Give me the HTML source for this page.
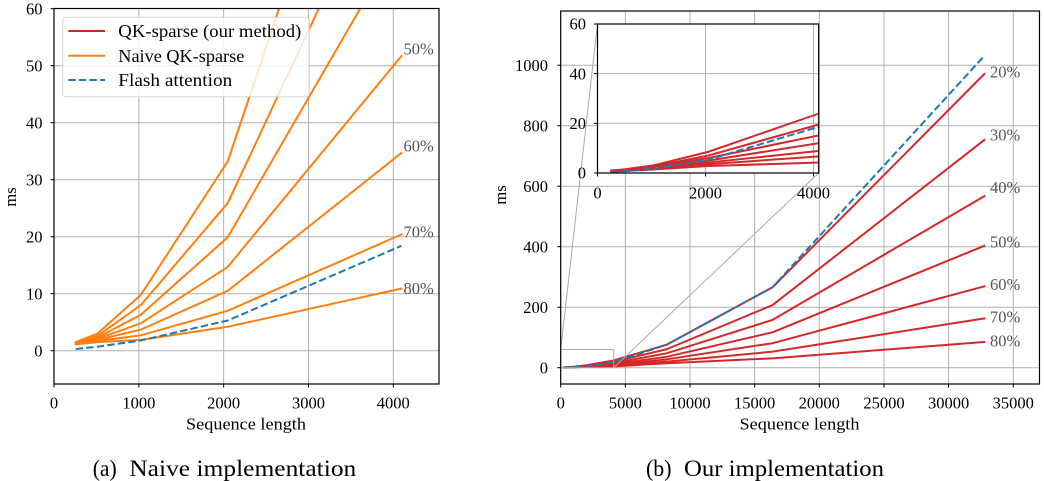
<!DOCTYPE html>
<html>
<head>
<meta charset="utf-8">
<style>
html,body{margin:0;padding:0;background:#fff;}
svg{display:block;}
text{font-family:"Liberation Serif","DejaVu Serif",serif;fill:#000;}
.tk{font-size:16.5px;}
.pc{font-size:16.5px;fill:#555;}
.grid line{stroke:#b0b0b0;stroke-width:1;}
.r{fill:none;stroke:#d62728;stroke-width:2;stroke-linejoin:round;stroke-linecap:square;}
.o{fill:none;stroke:#ff7f0e;stroke-width:2;stroke-linejoin:round;stroke-linecap:square;}
.b{fill:none;stroke:#1f77b4;stroke-width:2;stroke-dasharray:7.4 3.2;}
.tick line{stroke:#000;stroke-width:1;}
</style>
</head>
<body>
<svg width="1044" height="481" viewBox="0 0 1044 481" xmlns="http://www.w3.org/2000/svg">
<defs>
  <clipPath id="cl"><rect x="54" y="8.5" width="385" height="375.5"/></clipPath>
  <clipPath id="cr"><rect x="560.7" y="11" width="478.8" height="373"/></clipPath>
  <clipPath id="ci"><rect x="597.5" y="24" width="221.2" height="149"/></clipPath>
</defs>
<rect width="1044" height="481" fill="#fff"/>

<!-- ================= LEFT PLOT ================= -->
<g class="grid">
  <line x1="54" y1="8.5" x2="54" y2="384"/>
  <line x1="138.83" y1="8.5" x2="138.83" y2="384"/>
  <line x1="223.65" y1="8.5" x2="223.65" y2="384"/>
  <line x1="308.48" y1="8.5" x2="308.48" y2="384"/>
  <line x1="393.3" y1="8.5" x2="393.3" y2="384"/>
  <line x1="54" y1="350.7" x2="439" y2="350.7"/>
  <line x1="54" y1="293.7" x2="439" y2="293.7"/>
  <line x1="54" y1="236.7" x2="439" y2="236.7"/>
  <line x1="54" y1="179.7" x2="439" y2="179.7"/>
  <line x1="54" y1="122.7" x2="439" y2="122.7"/>
  <line x1="54" y1="65.7" x2="439" y2="65.7"/>
</g>
<g clip-path="url(#cl)">
  <polyline class="o" points="75.72,342.15 97.43,333.6 140.86,294.84 227.72,161.46 401.44,-356.1"/>
  <polyline class="o" points="75.72,342.72 97.43,335.88 140.86,305.1 227.72,203.07 401.44,-168.0"/>
  <polyline class="o" points="75.72,343.29 97.43,337.59 140.86,314.79 227.72,237.27 401.44,-62.55"/>
  <polyline class="o" points="75.72,343.29 97.43,338.73 140.86,323.34 227.72,266.91 401.44,56.01"/>
  <polyline class="o" points="75.72,343.86 97.43,339.87 140.86,329.61 227.72,290.85 401.44,152.91"/>
  <polyline class="o" points="75.72,343.86 97.43,341.01 140.86,335.31 227.72,310.8 401.44,234.42"/>
  <polyline class="o" points="75.72,344.43 97.43,342.15 140.86,339.87 227.72,326.76 401.44,288.57"/>
  <polyline class="b" points="75.72,348.99 97.43,346.71 140.86,340.44 227.72,320.49 401.44,245.82"/>
</g>
<text class="pc" x="403.5" y="54.7">50%</text>
<text class="pc" x="403.5" y="151.4">60%</text>
<text class="pc" x="403.5" y="237.4">70%</text>
<text class="pc" x="403.5" y="294.2">80%</text>

<!-- legend -->
<rect x="62.7" y="17.3" width="246.6" height="79.4" rx="3" ry="3" fill="#fff" fill-opacity="0.8" stroke="#cccccc" stroke-opacity="0.8" stroke-width="1"/>
<line x1="68.3" y1="31" x2="105" y2="31" stroke="#d62728" stroke-width="2"/>
<line x1="68.3" y1="55.7" x2="105" y2="55.7" stroke="#ff7f0e" stroke-width="2"/>
<line x1="68.3" y1="80" x2="105" y2="80" stroke="#1f77b4" stroke-width="2" stroke-dasharray="7.4 3.2"/>
<text x="118.3" y="37" font-size="18" textLength="183" lengthAdjust="spacingAndGlyphs">QK-sparse (our method)</text>
<text x="118.3" y="62" font-size="18" textLength="126" lengthAdjust="spacingAndGlyphs">Naive QK-sparse</text>
<text x="118.3" y="86" font-size="18" textLength="114" lengthAdjust="spacingAndGlyphs">Flash attention</text>

<!-- spines -->
<rect x="54" y="8.5" width="385" height="375.5" fill="none" stroke="#000" stroke-width="1.2"/>
<g class="tick">
  <line x1="50.5" y1="350.7" x2="54" y2="350.7"/>
  <line x1="50.5" y1="293.7" x2="54" y2="293.7"/>
  <line x1="50.5" y1="236.7" x2="54" y2="236.7"/>
  <line x1="50.5" y1="179.7" x2="54" y2="179.7"/>
  <line x1="50.5" y1="122.7" x2="54" y2="122.7"/>
  <line x1="50.5" y1="65.7" x2="54" y2="65.7"/>
  <line x1="50.5" y1="8.7" x2="54" y2="8.7"/>
  <line x1="54" y1="384" x2="54" y2="387.5"/>
  <line x1="138.83" y1="384" x2="138.83" y2="387.5"/>
  <line x1="223.65" y1="384" x2="223.65" y2="387.5"/>
  <line x1="308.48" y1="384" x2="308.48" y2="387.5"/>
  <line x1="393.3" y1="384" x2="393.3" y2="387.5"/>
</g>
<g class="tk" text-anchor="end">
  <text x="42.5" y="356.4">0</text>
  <text x="42.5" y="299.4">10</text>
  <text x="42.5" y="242.4">20</text>
  <text x="42.5" y="185.4">30</text>
  <text x="42.5" y="128.4">40</text>
  <text x="42.5" y="71.4">50</text>
  <text x="42.5" y="14.4">60</text>
</g>
<g class="tk" text-anchor="middle">
  <text x="54" y="408.5">0</text>
  <text x="138.83" y="408.5">1000</text>
  <text x="223.65" y="408.5">2000</text>
  <text x="308.48" y="408.5">3000</text>
  <text x="393.3" y="408.5">4000</text>
</g>
<text x="186" y="429.3" font-size="17" textLength="120" lengthAdjust="spacingAndGlyphs">Sequence length</text>
<text font-size="16.5" text-anchor="middle" transform="translate(16,197) rotate(-90)">ms</text>

<!-- ================= RIGHT PLOT ================= -->
<g class="grid">
  <line x1="625.35" y1="11" x2="625.35" y2="384"/>
  <line x1="690" y1="11" x2="690" y2="384"/>
  <line x1="754.65" y1="11" x2="754.65" y2="384"/>
  <line x1="819.3" y1="11" x2="819.3" y2="384"/>
  <line x1="883.95" y1="11" x2="883.95" y2="384"/>
  <line x1="948.6" y1="11" x2="948.6" y2="384"/>
  <line x1="1013.25" y1="11" x2="1013.25" y2="384"/>
  <line x1="560.7" y1="367.7" x2="1039.5" y2="367.7"/>
  <line x1="560.7" y1="307.2" x2="1039.5" y2="307.2"/>
  <line x1="560.7" y1="246.7" x2="1039.5" y2="246.7"/>
  <line x1="560.7" y1="186.2" x2="1039.5" y2="186.2"/>
  <line x1="560.7" y1="125.7" x2="1039.5" y2="125.7"/>
  <line x1="560.7" y1="65.2" x2="1039.5" y2="65.2"/>
</g>
<g clip-path="url(#cr)">
  <polyline class="r" points="564.01,367.40 567.32,367.25 573.94,366.79 587.18,365.13 613.66,360.47 666.62,344.71 772.55,287.24 984.39,73.97"/>
  <polyline class="r" points="564.01,367.43 567.32,367.31 573.94,366.91 587.18,365.58 613.66,361.80 666.62,349.25 772.55,305.08 984.39,139.92"/>
  <polyline class="r" points="564.01,367.46 567.32,367.34 573.94,367.00 587.18,365.89 613.66,363.13 666.62,353.30 772.55,319.90 984.39,196.18"/>
  <polyline class="r" points="564.01,367.46 567.32,367.37 573.94,367.10 587.18,366.19 613.66,364.07 666.62,356.81 772.55,332.31 984.39,245.79"/>
  <polyline class="r" points="564.01,367.49 567.32,367.40 573.94,367.16 587.18,366.43 613.66,365.01 666.62,359.32 772.55,343.20 984.39,286.33"/>
  <polyline class="r" points="564.01,367.49 567.32,367.43 573.94,367.22 587.18,366.64 613.66,365.67 666.62,361.65 772.55,351.67 984.39,318.39"/>
  <polyline class="r" points="564.01,367.52 567.32,367.46 573.94,367.28 587.18,366.85 613.66,366.43 666.62,363.31 772.55,358.32 984.39,341.99"/>
  <polyline class="b" points="564.01,367.61 567.32,367.49 573.94,367.16 587.18,366.10 613.66,362.07 666.62,344.71 772.55,287.24 984.39,55.82"/>
</g>
<text class="pc" x="990" y="77.4">20%</text>
<text class="pc" x="990" y="140.7">30%</text>
<text class="pc" x="990" y="193">40%</text>
<text class="pc" x="990" y="247.4">50%</text>
<text class="pc" x="990" y="290">60%</text>
<text class="pc" x="990" y="322.4">70%</text>
<text class="pc" x="990" y="346.4">80%</text>

<!-- zoom indicator -->
<rect x="560.7" y="349.55" width="53" height="18.15" fill="none" stroke="#aaaaaa" stroke-width="1"/>
<line x1="560.7" y1="349.55" x2="597.5" y2="24" stroke="#aaaaaa" stroke-width="1"/>
<line x1="613.7" y1="367.7" x2="818.7" y2="173" stroke="#aaaaaa" stroke-width="1"/>

<!-- inset -->
<rect x="597.5" y="24" width="221.2" height="149" fill="#fff"/>
<g class="grid">
  <line x1="705.5" y1="24" x2="705.5" y2="173"/>
  <line x1="813.5" y1="24" x2="813.5" y2="173"/>
  <line x1="597.5" y1="123.3" x2="818.7" y2="123.3"/>
  <line x1="597.5" y1="73.6" x2="818.7" y2="73.6"/>
</g>
<g clip-path="url(#ci)">
  <polyline class="r" points="611.32,170.52 625.15,169.27 652.80,165.55 708.09,151.88 818.68,113.61"/>
  <polyline class="r" points="611.32,170.76 625.15,169.77 652.80,166.54 708.09,155.61 818.68,124.54"/>
  <polyline class="r" points="611.32,171.01 625.15,170.02 652.80,167.28 708.09,158.09 818.68,135.48"/>
  <polyline class="r" points="611.32,171.01 625.15,170.27 652.80,168.03 708.09,160.58 818.68,143.18"/>
  <polyline class="r" points="611.32,171.26 625.15,170.52 652.80,168.53 708.09,162.56 818.68,150.88"/>
  <polyline class="r" points="611.32,171.26 625.15,170.76 652.80,169.02 708.09,164.30 818.68,156.35"/>
  <polyline class="r" points="611.32,171.51 625.15,171.01 652.80,169.52 708.09,166.04 818.68,162.56"/>
  <polyline class="b" points="611.32,172.25 625.15,171.26 652.80,168.53 708.09,159.83 818.68,126.78"/>
</g>
<rect x="597.5" y="24" width="221.2" height="149" fill="none" stroke="#000" stroke-width="1.2"/>
<g class="tick">
  <line x1="594" y1="173" x2="597.5" y2="173"/>
  <line x1="594" y1="123.3" x2="597.5" y2="123.3"/>
  <line x1="594" y1="73.6" x2="597.5" y2="73.6"/>
  <line x1="594" y1="24" x2="597.5" y2="24"/>
  <line x1="597.5" y1="173" x2="597.5" y2="176.5"/>
  <line x1="705.5" y1="173" x2="705.5" y2="176.5"/>
  <line x1="813.5" y1="173" x2="813.5" y2="176.5"/>
</g>
<g class="tk" text-anchor="end">
  <text x="586" y="178.7">0</text>
  <text x="586" y="129">20</text>
  <text x="586" y="79.3">40</text>
  <text x="586" y="29.7">60</text>
</g>
<g class="tk" text-anchor="middle">
  <text x="597.5" y="198.4">0</text>
  <text x="705.5" y="198.4">2000</text>
  <text x="813.5" y="198.4">4000</text>
</g>

<!-- main spines and ticks -->
<rect x="560.7" y="11" width="478.8" height="373" fill="none" stroke="#000" stroke-width="1.2"/>
<g class="tick">
  <line x1="557.2" y1="367.7" x2="560.7" y2="367.7"/>
  <line x1="557.2" y1="307.2" x2="560.7" y2="307.2"/>
  <line x1="557.2" y1="246.7" x2="560.7" y2="246.7"/>
  <line x1="557.2" y1="186.2" x2="560.7" y2="186.2"/>
  <line x1="557.2" y1="125.7" x2="560.7" y2="125.7"/>
  <line x1="557.2" y1="65.2" x2="560.7" y2="65.2"/>
  <line x1="560.7" y1="384" x2="560.7" y2="387.5"/>
  <line x1="625.35" y1="384" x2="625.35" y2="387.5"/>
  <line x1="690" y1="384" x2="690" y2="387.5"/>
  <line x1="754.65" y1="384" x2="754.65" y2="387.5"/>
  <line x1="819.3" y1="384" x2="819.3" y2="387.5"/>
  <line x1="883.95" y1="384" x2="883.95" y2="387.5"/>
  <line x1="948.6" y1="384" x2="948.6" y2="387.5"/>
  <line x1="1013.25" y1="384" x2="1013.25" y2="387.5"/>
</g>
<g class="tk" text-anchor="end">
  <text x="548" y="373.4">0</text>
  <text x="548" y="312.9">200</text>
  <text x="548" y="252.4">400</text>
  <text x="548" y="191.9">600</text>
  <text x="548" y="131.4">800</text>
  <text x="548" y="70.9">1000</text>
</g>
<g class="tk" text-anchor="middle">
  <text x="560.7" y="408.5">0</text>
  <text x="625.35" y="408.5">5000</text>
  <text x="690" y="408.5">10000</text>
  <text x="754.65" y="408.5">15000</text>
  <text x="819.3" y="408.5">20000</text>
  <text x="883.95" y="408.5">25000</text>
  <text x="948.6" y="408.5">30000</text>
  <text x="1013.25" y="408.5">35000</text>
</g>
<text x="739.5" y="429.3" font-size="17" textLength="120" lengthAdjust="spacingAndGlyphs">Sequence length</text>
<text font-size="16.5" text-anchor="middle" transform="translate(506,195) rotate(-90)">ms</text>

<!-- captions -->
<text x="92.7" y="476" font-size="23" textLength="24" lengthAdjust="spacingAndGlyphs">(a)</text>
<text x="129.3" y="476" font-size="23" textLength="227" lengthAdjust="spacingAndGlyphs">Naive implementation</text>
<text x="646" y="476" font-size="23" textLength="25.5" lengthAdjust="spacingAndGlyphs">(b)</text>
<text x="684" y="476" font-size="23" textLength="200" lengthAdjust="spacingAndGlyphs">Our implementation</text>
</svg>
</body>
</html>
